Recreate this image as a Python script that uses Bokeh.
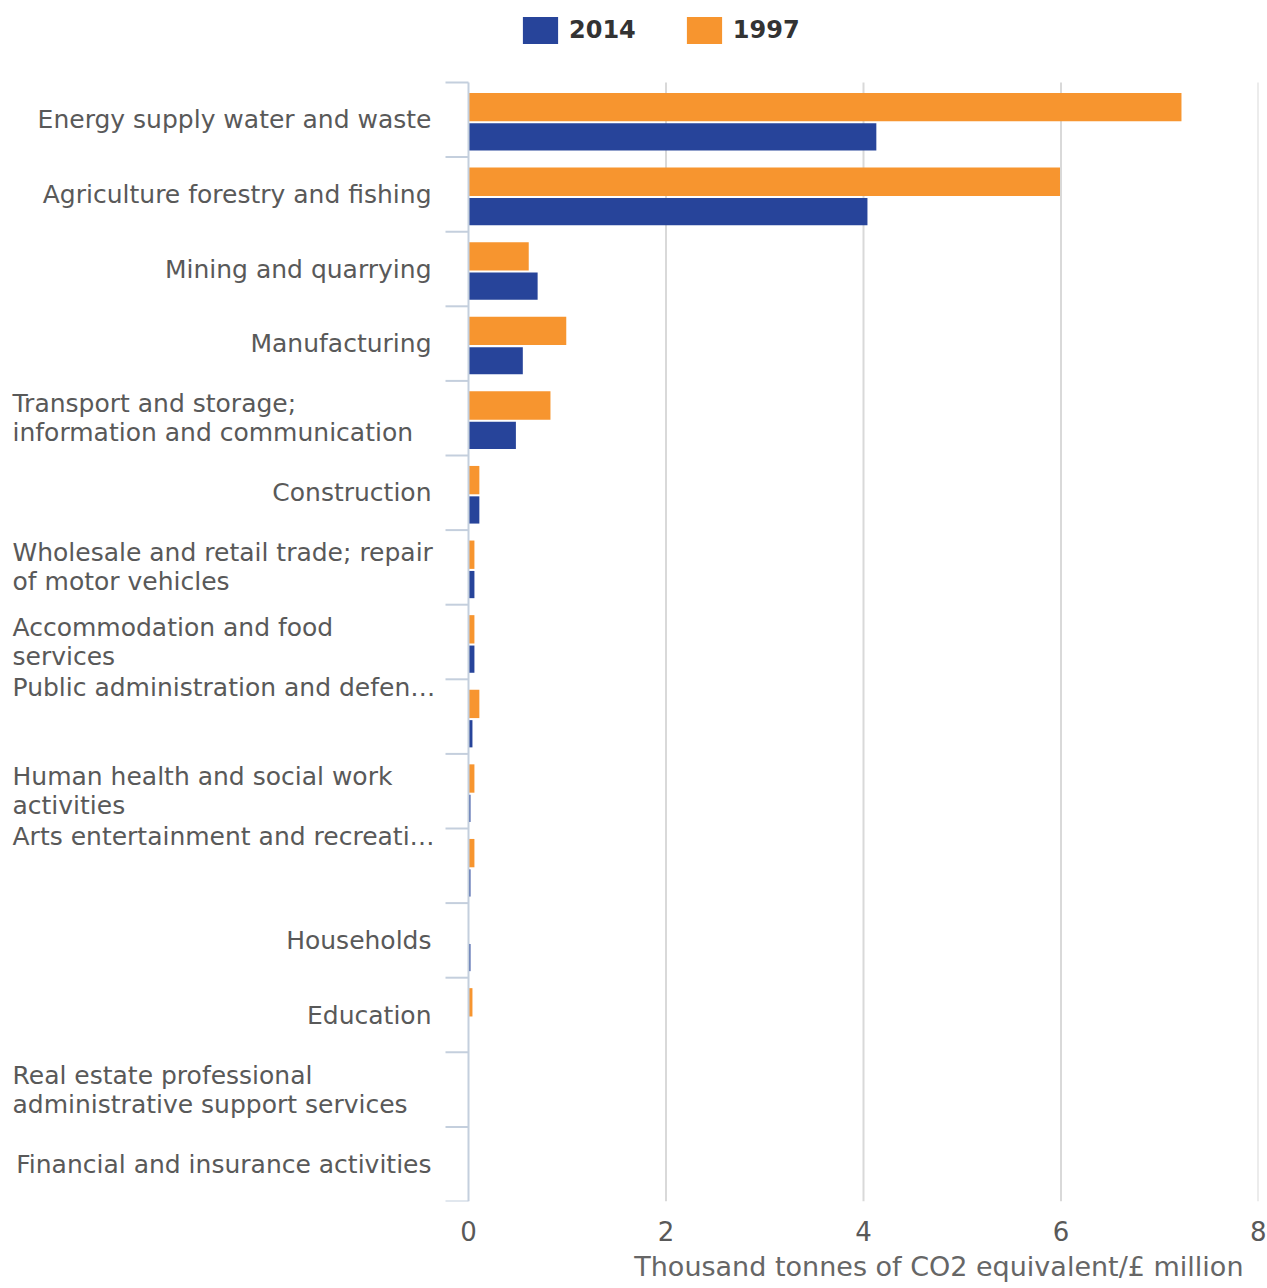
import math
from bokeh.plotting import figure
from bokeh.models import Range1d, FixedTicker, Legend, LegendItem, ColumnDataSource, Title
from bokeh.core.properties import value
from bokeh.embed import file_html
from bokeh.resources import INLINE

categories = [
    "Energy supply water and waste",
    "Agriculture forestry and fishing",
    "Mining and quarrying",
    "Manufacturing",
    "Transport and storage;\ninformation and communication",
    "Construction",
    "Wholesale and retail trade; repair\nof motor vehicles",
    "Accommodation and food\nservices",
    "Public administration and defen\u2026",
    "Human health and social work\nactivities",
    "Arts entertainment and recreati\u2026",
    "Households",
    "Education",
    "Real estate professional\nadministrative support services",
    "Financial and insurance activities",
]
values_1997 = [7.22, 5.99, 0.61, 0.99, 0.83, 0.11, 0.06, 0.06, 0.11, 0.06, 0.06, 0.0, 0.04, 0.0, 0.0]
values_2014 = [4.13, 4.04, 0.70, 0.55, 0.48, 0.11, 0.06, 0.06, 0.04, 0.02, 0.02, 0.02, 0.0, 0.0, 0.0]
x_ticks = [0, 2, 4, 6, 8]
series_names = ["2014", "1997"]
x_title = "Thousand tonnes of CO2 equivalent/\u00a3 million"

BLUE = "#27449a"
ORANGE = "#f7952f"
TEXT = "#595959"
AXIS = "#c4cfdd"
FONT = "DejaVu Sans"

n = len(categories)
idx = list(range(n))

W, H = 1266, 1287
LEFT_PX = 468      # x=0 position
RIGHT_PX = 1258    # x=8 position
TOP_PX = 82        # first category boundary
BOTTOM_PX = 1201   # last category boundary
xmax = x_ticks[-1]
sx = (RIGHT_PX - LEFT_PX) / xmax
sy = (BOTTOM_PX - TOP_PX) / n

p = figure(width=W, height=H, output_backend="svg", toolbar_location=None,
           x_range=Range1d(-LEFT_PX / sx, xmax), y_range=Range1d(n, -TOP_PX / sy),
           min_border_left=0, min_border_right=W - RIGHT_PX, min_border_top=0,
           min_border_bottom=H - BOTTOM_PX, y_axis_location=None)
p.outline_line_color = None
p.background_fill_color = "white"
p.xgrid.grid_line_color = None
p.ygrid.grid_line_color = None

# grid lines (only over the category area)
gx = x_ticks[1:]
p.segment(x0=gx, x1=gx, y0=[0] * len(gx), y1=[n] * len(gx), line_color="#d9d9d9", line_width=2)

src = ColumnDataSource(dict(
    y97=[i + 0.33 for i in idx],
    y14=[i + 0.73 for i in idx],
    v97=values_1997,
    v14=values_2014,
))
r97 = p.hbar(y="y97", left=0, right="v97", height=0.38, source=src,
             fill_color=ORANGE, line_color=None)
r14 = p.hbar(y="y14", left=0, right="v14", height=0.365, source=src,
             fill_color=BLUE, line_color=None)

# category axis: line and boundary ticks
p.segment(x0=[0], x1=[0], y0=[0], y1=[n], line_color=AXIS, line_width=2)
p.ray(x=[0] * (n + 1), y=list(range(n + 1)), length=23, length_units="screen",
      angle=math.pi, line_color=AXIS, line_width=2)

# category labels
aligns, xoffs, ys = [], [], []
for i, lab in enumerate(categories):
    trunc = "\u2026" in lab
    if "\n" in lab or trunc:
        aligns.append("left"); xoffs.append(-456)
    else:
        aligns.append("right"); xoffs.append(-37)
    ys.append(i + 0.11 if trunc else i + 0.5)
lab_src = ColumnDataSource(dict(x=[0] * n, y=ys, text=categories, align=aligns, xoff=xoffs))
p.text(x="x", y="y", text="text", x_offset="xoff", text_align="align", source=lab_src,
       text_baseline="middle", text_font=value(FONT), text_font_size="25px",
       text_color=TEXT, text_line_height=1.0)

# x axis
xa = p.xaxis[0]
xa.ticker = FixedTicker(ticks=x_ticks)
xa.axis_line_color = None
xa.major_tick_line_color = None
xa.minor_tick_line_color = None
xa.major_label_text_font = FONT
xa.major_label_text_font_size = "26px"
xa.major_label_text_color = TEXT
xa.major_label_standoff = 13

p.add_layout(Title(text=x_title, align="right", offset=15, standoff=10,
                   text_font=FONT, text_font_size="27px", text_font_style="normal",
                   text_color="#666666"), "below")

legend = Legend(items=[LegendItem(label=series_names[0], renderers=[r14]),
                       LegendItem(label=series_names[1], renderers=[r97])],
                orientation="horizontal", location=(518, BOTTOM_PX - 47),
                glyph_width=44, glyph_height=34, label_standoff=7, spacing=46,
                padding=0, margin=0, border_line_color=None, background_fill_alpha=0,
                label_text_font=FONT, label_text_font_size="24px",
                label_text_font_style="bold", label_text_color="#333333")
p.add_layout(legend, "center")

open("out.html", "w").write(file_html(p, INLINE))
